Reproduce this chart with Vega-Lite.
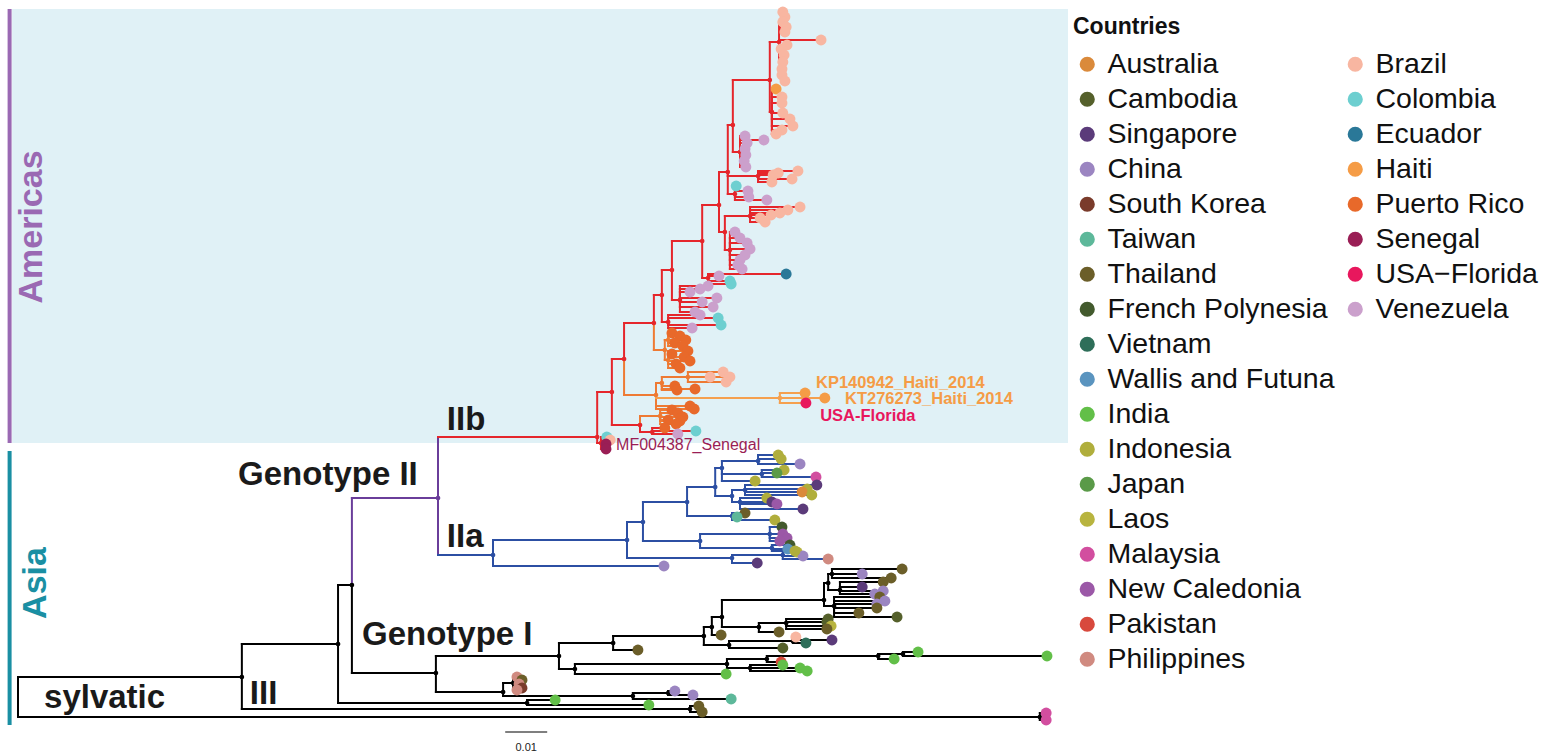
{
"$schema":"https://vega.github.io/schema/vega-lite/v6.json",
"width":1558,"height":754,"padding":0,"autosize":{"type":"none"},
"background":"#ffffff",
"config":{"view":{"stroke":null},
"legend":{"labelFont":"Liberation Sans","labelFontSize":28.5,"labelColor":"#111111","titleFont":"Liberation Sans","titleFontSize":23,"titleFontWeight":"bold","titleColor":"#111111","titlePadding":11,"symbolSize":230,"symbolType":"circle","symbolStrokeWidth":0,"symbolOpacity":1,"rowPadding":6,"labelOffset":6,"padding":0,"labelLimit":400,"offset":0}},
"datasets":{
"tree":[
{"id":"R0","dist":0,"pos":69.7,"clade":"bb"},
{"id":"SYL","parent":"R0","dist":243.3,"pos":71.7,"clade":"bb"},
{"parent":"SYL","dist":244.8,"pos":71.3,"clade":"bb","country":"Malaysia"},
{"parent":"SYL","dist":244.8,"pos":72.0,"clade":"bb","country":"Malaysia"},
{"id":"A","parent":"R0","dist":53.3,"pos":67.7,"clade":"bb"},
{"id":"G3","parent":"A","dist":160,"pos":70.9,"clade":"bb"},
{"parent":"G3","dist":162.1,"pos":70.6,"clade":"bb","country":"Thailand"},
{"parent":"G3","dist":162.9,"pos":71.2,"clade":"bb","country":"Thailand"},
{"id":"B","parent":"A","dist":76.2,"pos":64.4,"clade":"bb"},
{"id":"B2","parent":"B","dist":121.2,"pos":70.3,"clade":"bb"},
{"parent":"B2","dist":127.9,"pos":70.0,"clade":"bb","country":"India"},
{"parent":"B2","dist":150.2,"pos":70.5,"clade":"bb","country":"India"},
{"id":"C","parent":"B","dist":79.5,"pos":58.5,"clade":"bb"},
{"id":"D","parent":"C","dist":99.5,"pos":67.3,"clade":"bb"},
{"id":"N","parent":"D","dist":115.5,"pos":69.2,"clade":"bb"},
{"id":"N1","parent":"N","dist":117.9,"pos":68.3,"clade":"bb"},
{"parent":"N1","dist":118.8,"pos":67.7,"clade":"bb","country":"Philippines"},
{"parent":"N1","dist":120,"pos":68.0,"clade":"bb","country":"Thailand"},
{"parent":"N1","dist":119.3,"pos":68.4,"clade":"bb","country":"Philippines"},
{"parent":"N1","dist":120,"pos":68.8,"clade":"bb","country":"South Korea"},
{"parent":"N1","dist":118.8,"pos":69.0,"clade":"bb","country":"Philippines"},
{"id":"N2","parent":"N","dist":146.4,"pos":69.6,"clade":"bb"},
{"id":"N3","parent":"N2","dist":154.8,"pos":69.3,"clade":"bb"},
{"parent":"N3","dist":156.4,"pos":69.1,"clade":"bb","country":"China"},
{"parent":"N3","dist":160.7,"pos":69.5,"clade":"bb","country":"China"},
{"parent":"N2","dist":169.8,"pos":69.9,"clade":"bb","country":"Taiwan"},
{"id":"E","parent":"D","dist":128.8,"pos":65.6,"clade":"bb"},
{"id":"L","parent":"E","dist":132.6,"pos":66.9,"clade":"bb"},
{"parent":"L","dist":168.6,"pos":67.4,"clade":"bb","country":"India"},
{"id":"M","parent":"L","dist":168.8,"pos":66.4,"clade":"bb"},
{"id":"M1","parent":"M","dist":178.3,"pos":65.9,"clade":"bb"},
{"parent":"M1","dist":181.7,"pos":66.2,"clade":"bb","country":"Pakistan"},
{"id":"M1a","parent":"M1","dist":204.8,"pos":65.6,"clade":"bb"},
{"parent":"M1a","dist":208.6,"pos":65.9,"clade":"bb","country":"India"},
{"id":"M1b","parent":"M1a","dist":210.7,"pos":65.4,"clade":"bb"},
{"parent":"M1b","dist":214.3,"pos":65.2,"clade":"bb","country":"India"},
{"parent":"M1b","dist":245,"pos":65.6,"clade":"bb","country":"India"},
{"id":"M2","parent":"M","dist":174.3,"pos":66.8,"clade":"bb"},
{"parent":"M2","dist":182.1,"pos":66.5,"clade":"bb","country":"India"},
{"parent":"M2","dist":186.2,"pos":66.8,"clade":"bb","country":"India"},
{"parent":"M2","dist":187.9,"pos":67.1,"clade":"bb","country":"India"},
{"id":"F","parent":"E","dist":141.7,"pos":64.3,"clade":"bb"},
{"parent":"F","dist":147.6,"pos":65.0,"clade":"bb","country":"Thailand"},
{"id":"G","parent":"F","dist":163.3,"pos":63.6,"clade":"bb"},
{"id":"G2","parent":"G","dist":169.3,"pos":64.5,"clade":"bb"},
{"parent":"G2","dist":182.1,"pos":64.8,"clade":"bb","country":"Cambodia"},
{"id":"G2a","parent":"G2","dist":184.5,"pos":64.1,"clade":"bb"},
{"parent":"G2a","dist":185.2,"pos":63.7,"clade":"bb","country":"Brazil"},
{"parent":"G2a","dist":193.8,"pos":64.0,"clade":"bb","country":"Singapore"},
{"parent":"G2a","dist":187.6,"pos":64.3,"clade":"bb","country":"Vietnam"},
{"id":"H","parent":"G","dist":165.2,"pos":62.7,"clade":"bb"},
{"parent":"H","dist":167.4,"pos":63.5,"clade":"bb","country":"Thailand"},
{"id":"I","parent":"H","dist":167.6,"pos":61.7,"clade":"bb"},
{"id":"K","parent":"I","dist":176.4,"pos":62.7,"clade":"bb"},
{"parent":"K","dist":181.2,"pos":63.2,"clade":"bb","country":"Thailand"},
{"id":"K1","parent":"K","dist":182.9,"pos":62.3,"clade":"bb"},
{"parent":"K1","dist":192.9,"pos":61.9,"clade":"bb","country":"Cambodia"},
{"parent":"K1","dist":192.6,"pos":62.2,"clade":"bb","country":"Cambodia"},
{"parent":"K1","dist":193.6,"pos":62.6,"clade":"bb","country":"Laos"},
{"parent":"K1","dist":192.6,"pos":62.9,"clade":"bb","country":"Thailand"},
{"id":"J","parent":"I","dist":191.9,"pos":60.0,"clade":"bb"},
{"id":"J1","parent":"J","dist":192.9,"pos":58.3,"clade":"bb"},
{"id":"J1a","parent":"J1","dist":193.8,"pos":57.4,"clade":"bb"},
{"parent":"J1a","dist":210.5,"pos":56.9,"clade":"bb","country":"Thailand"},
{"parent":"J1a","dist":201,"pos":57.4,"clade":"bb","country":"China"},
{"parent":"J1a","dist":207.9,"pos":57.8,"clade":"bb","country":"Thailand"},
{"id":"J1b","parent":"J1","dist":195.7,"pos":59.0,"clade":"bb"},
{"parent":"J1b","dist":206,"pos":58.2,"clade":"bb","country":"Thailand"},
{"parent":"J1b","dist":201,"pos":58.7,"clade":"bb","country":"Singapore"},
{"parent":"J1b","dist":206,"pos":59.1,"clade":"bb","country":"China"},
{"parent":"J1b","dist":204,"pos":59.4,"clade":"bb","country":"China"},
{"id":"J2","parent":"J","dist":194.3,"pos":60.6,"clade":"bb"},
{"parent":"J2","dist":205.2,"pos":59.7,"clade":"bb","country":"Thailand"},
{"parent":"J2","dist":206.4,"pos":60.1,"clade":"bb","country":"China"},
{"parent":"J2","dist":204.5,"pos":60.4,"clade":"bb","country":"China"},
{"parent":"J2","dist":204.5,"pos":60.8,"clade":"bb","country":"Thailand"},
{"parent":"J2","dist":200.2,"pos":61.3,"clade":"bb","country":"Thailand"},
{"parent":"J2","dist":209.3,"pos":61.7,"clade":"bb","country":"Cambodia"},
{"id":"P","parent":"C","dist":100,"pos":49.8,"clade":"II"},
{"id":"Q","parent":"P","dist":113.1,"pos":55.5,"clade":"IIa"},
{"parent":"Q","dist":153.8,"pos":56.6,"clade":"IIa","country":"China"},
{"id":"R","parent":"Q","dist":145,"pos":54.0,"clade":"IIa"},
{"id":"S","parent":"R","dist":148.8,"pos":52.2,"clade":"IIa"},
{"id":"T","parent":"R","dist":170,"pos":55.8,"clade":"IIa"},
{"parent":"T","dist":176,"pos":56.3,"clade":"IIa","country":"Singapore"},
{"id":"T2","parent":"T","dist":182.1,"pos":55.5,"clade":"IIa"},
{"parent":"T2","dist":185.5,"pos":55.2,"clade":"IIa","country":"Laos"},
{"parent":"T2","dist":186.9,"pos":55.6,"clade":"IIa","country":"China"},
{"parent":"T2","dist":192.9,"pos":55.9,"clade":"IIa","country":"Philippines"},
{"id":"U","parent":"S","dist":159.3,"pos":50.2,"clade":"IIa"},
{"id":"U1","parent":"U","dist":166,"pos":48.7,"clade":"IIa"},
{"id":"U1a","parent":"U1","dist":167.6,"pos":46.8,"clade":"IIa"},
{"parent":"U1a","dist":175.5,"pos":48.1,"clade":"IIa","country":"Indonesia"},
{"id":"U1c","parent":"U1a","dist":176.2,"pos":46.1,"clade":"IIa"},
{"parent":"U1c","dist":181,"pos":45.5,"clade":"IIa","country":"Indonesia"},
{"parent":"U1c","dist":181.7,"pos":45.9,"clade":"IIa","country":"Indonesia"},
{"parent":"U1c","dist":186.2,"pos":46.4,"clade":"IIa","country":"China"},
{"id":"U1d","parent":"U1a","dist":177.1,"pos":47.4,"clade":"IIa"},
{"parent":"U1d","dist":182.4,"pos":47.0,"clade":"IIa","country":"Indonesia"},
{"parent":"U1d","dist":180.7,"pos":47.3,"clade":"IIa","country":"Japan"},
{"parent":"U1d","dist":190,"pos":47.7,"clade":"IIa","country":"Malaysia"},
{"id":"U1b","parent":"U1","dist":170,"pos":49.6,"clade":"IIa"},
{"id":"U1e","parent":"U1b","dist":173.1,"pos":49.0,"clade":"IIa"},
{"parent":"U1e","dist":190.2,"pos":48.5,"clade":"IIa","country":"Singapore"},
{"parent":"U1e","dist":187.9,"pos":48.9,"clade":"IIa","country":"Indonesia"},
{"parent":"U1e","dist":186.7,"pos":49.2,"clade":"IIa","country":"Australia"},
{"parent":"U1e","dist":189,"pos":49.5,"clade":"IIa","country":"Indonesia"},
{"id":"U1f","parent":"U1b","dist":171.9,"pos":50.2,"clade":"IIa"},
{"parent":"U1f","dist":178.3,"pos":49.8,"clade":"IIa","country":"Indonesia"},
{"parent":"U1f","dist":179.5,"pos":50.2,"clade":"IIa","country":"Singapore"},
{"parent":"U1f","dist":180.7,"pos":50.4,"clade":"IIa","country":"New Caledonia"},
{"parent":"U1f","dist":186.9,"pos":50.9,"clade":"IIa","country":"Singapore"},
{"id":"U2","parent":"U","dist":170,"pos":51.6,"clade":"IIa"},
{"parent":"U2","dist":173.1,"pos":51.3,"clade":"IIa","country":"Thailand"},
{"parent":"U2","dist":171.2,"pos":51.7,"clade":"IIa","country":"Taiwan"},
{"parent":"U2","dist":180.2,"pos":52.0,"clade":"IIa","country":"Indonesia"},
{"id":"V","parent":"S","dist":162.4,"pos":54.1,"clade":"IIa"},
{"id":"V1","parent":"V","dist":179,"pos":53.4,"clade":"IIa"},
{"parent":"V1","dist":181.9,"pos":52.7,"clade":"IIa","country":"French Polynesia"},
{"parent":"V1","dist":182.1,"pos":53.4,"clade":"IIa","country":"New Caledonia"},
{"parent":"V1","dist":183.1,"pos":53.8,"clade":"IIa","country":"New Caledonia"},
{"parent":"V1","dist":181.4,"pos":54.1,"clade":"IIa","country":"New Caledonia"},
{"id":"V2","parent":"V","dist":179.5,"pos":54.8,"clade":"IIa"},
{"parent":"V2","dist":183.8,"pos":54.5,"clade":"IIa","country":"French Polynesia"},
{"parent":"V2","dist":183.3,"pos":54.9,"clade":"IIa","country":"Wallis and Futuna"},
{"parent":"V2","dist":185,"pos":55.1,"clade":"IIa","country":"Indonesia"},
{"id":"AM0","parent":"P","dist":137.9,"pos":43.7,"clade":"IIb"},
{"id":"SEN","parent":"AM0","dist":138.8,"pos":44.3,"clade":"IIb"},
{"parent":"SEN","dist":140.2,"pos":43.7,"clade":"IIb","country":"Colombia"},
{"parent":"SEN","dist":141,"pos":44.0,"clade":"IIb","country":"Brazil"},
{"parent":"SEN","dist":140,"pos":44.4,"clade":"IIb","country":"Senegal"},
{"parent":"SEN","dist":140,"pos":44.9,"clade":"IIb","country":"Senegal"},
{"id":"AM1","parent":"AM0","dist":141.4,"pos":39.2,"clade":"IIb"},
{"id":"AM1b","parent":"AM1","dist":148.1,"pos":42.5,"clade":"IIb"},
{"id":"PR1","parent":"AM1b","dist":152.9,"pos":41.6,"clade":"PR"},
{"parent":"PR1","dist":155.7,"pos":41.0,"clade":"PR","country":"Puerto Rico"},
{"parent":"PR1","dist":157.1,"pos":41.3,"clade":"PR","country":"Puerto Rico"},
{"parent":"PR1","dist":158.3,"pos":41.7,"clade":"PR","country":"Puerto Rico"},
{"parent":"PR1","dist":154.8,"pos":42.0,"clade":"PR","country":"Puerto Rico"},
{"parent":"PR1","dist":157.6,"pos":42.1,"clade":"PR","country":"Puerto Rico"},
{"parent":"PR1","dist":156.7,"pos":42.4,"clade":"PR","country":"Puerto Rico"},
{"id":"AM1c","parent":"AM1b","dist":151,"pos":43.2,"clade":"IIb"},
{"parent":"AM1c","dist":154,"pos":42.8,"clade":"IIb","country":"Puerto Rico"},
{"parent":"AM1c","dist":161.4,"pos":43.1,"clade":"IIb","country":"Colombia"},
{"parent":"AM1c","dist":157.1,"pos":43.4,"clade":"IIb","country":"Venezuela"},
{"id":"AM2","parent":"AM1","dist":144.3,"pos":35.9,"clade":"IIb"},
{"id":"AM3b","parent":"AM2","dist":151.9,"pos":39.5,"clade":"PR"},
{"id":"PRC","parent":"AM3b","dist":153.3,"pos":38.3,"clade":"PR"},
{"id":"BRc","parent":"PRC","dist":159.5,"pos":37.7,"clade":"PR"},
{"parent":"BRc","dist":167.9,"pos":37.2,"clade":"PR","country":"Brazil"},
{"parent":"BRc","dist":164.8,"pos":37.7,"clade":"PR","country":"Brazil"},
{"parent":"BRc","dist":169.5,"pos":37.7,"clade":"PR","country":"Brazil"},
{"parent":"BRc","dist":168.6,"pos":38.2,"clade":"PR","country":"Brazil"},
{"parent":"PRC","dist":156.4,"pos":38.6,"clade":"PR","country":"Puerto Rico"},
{"parent":"PRC","dist":161.2,"pos":38.9,"clade":"PR","country":"Puerto Rico"},
{"parent":"PRC","dist":156.9,"pos":39.0,"clade":"PR","country":"Puerto Rico"},
{"id":"HAI","parent":"AM3b","dist":181.4,"pos":39.8,"clade":"HT"},
{"parent":"HAI","dist":187.4,"pos":39.3,"clade":"HT","country":"Haiti"},
{"parent":"HAI","dist":192.1,"pos":39.8,"clade":"HT","country":"Haiti"},
{"parent":"HAI","dist":187.6,"pos":40.3,"clade":"HT","country":"USA−Florida"},
{"parent":"AM3b","dist":160,"pos":40.6,"clade":"PR","country":"Puerto Rico"},
{"parent":"AM3b","dist":161,"pos":40.9,"clade":"PR","country":"Puerto Rico"},
{"id":"AM3","parent":"AM2","dist":151.4,"pos":32.3,"clade":"IIb"},
{"id":"PRA","parent":"AM3","dist":154,"pos":35.0,"clade":"PR"},
{"id":"PRA1","parent":"PRA","dist":154.8,"pos":34.0,"clade":"PR"},
{"parent":"PRA1","dist":155.7,"pos":33.3,"clade":"PR","country":"Puerto Rico"},
{"parent":"PRA1","dist":157.6,"pos":33.6,"clade":"PR","country":"Puerto Rico"},
{"parent":"PRA1","dist":159,"pos":34.0,"clade":"PR","country":"Puerto Rico"},
{"parent":"PRA1","dist":156.4,"pos":34.3,"clade":"PR","country":"Puerto Rico"},
{"parent":"PRA1","dist":158.3,"pos":34.6,"clade":"PR","country":"Puerto Rico"},
{"id":"PRA2","parent":"PRA","dist":154.8,"pos":36.0,"clade":"PR"},
{"parent":"PRA2","dist":159.5,"pos":35.1,"clade":"PR","country":"Puerto Rico"},
{"parent":"PRA2","dist":155.7,"pos":35.4,"clade":"PR","country":"Puerto Rico"},
{"parent":"PRA2","dist":158.6,"pos":35.7,"clade":"PR","country":"Puerto Rico"},
{"parent":"PRA2","dist":160,"pos":36.1,"clade":"PR","country":"Puerto Rico"},
{"parent":"PRA2","dist":156.7,"pos":36.4,"clade":"PR","country":"Puerto Rico"},
{"parent":"PRA2","dist":157.6,"pos":36.8,"clade":"PR","country":"Puerto Rico"},
{"id":"AM4","parent":"AM3","dist":153.3,"pos":29.5,"clade":"IIb"},
{"id":"VZ","parent":"AM4","dist":154.8,"pos":32.2,"clade":"IIb"},
{"parent":"VZ","dist":162.4,"pos":31.5,"clade":"IIb","country":"Venezuela"},
{"parent":"VZ","dist":166.7,"pos":31.8,"clade":"IIb","country":"Colombia"},
{"parent":"VZ","dist":167.4,"pos":32.5,"clade":"IIb","country":"Colombia"},
{"parent":"VZ","dist":160.5,"pos":32.8,"clade":"IIb","country":"Venezuela"},
{"id":"AM5","parent":"AM4","dist":155.7,"pos":27.0,"clade":"IIb"},
{"id":"VZA","parent":"AM5","dist":157.6,"pos":30.0,"clade":"IIb"},
{"parent":"VZA","dist":164.3,"pos":28.6,"clade":"IIb","country":"Venezuela"},
{"parent":"VZA","dist":162.4,"pos":28.9,"clade":"IIb","country":"Venezuela"},
{"parent":"VZA","dist":160,"pos":29.2,"clade":"IIb","country":"Venezuela"},
{"parent":"VZA","dist":166.4,"pos":29.8,"clade":"IIb","country":"Venezuela"},
{"parent":"VZA","dist":162.9,"pos":30.2,"clade":"IIb","country":"Venezuela"},
{"parent":"VZA","dist":165.5,"pos":30.7,"clade":"IIb","country":"Venezuela"},
{"parent":"VZA","dist":161.2,"pos":31.2,"clade":"IIb","country":"Venezuela"},
{"id":"AM6","parent":"AM5","dist":162.9,"pos":24.1,"clade":"IIb"},
{"id":"AM6c","parent":"AM6","dist":164.3,"pos":27.8,"clade":"IIb"},
{"parent":"AM6c","dist":182.9,"pos":27.4,"clade":"IIb","country":"Ecuador"},
{"parent":"AM6c","dist":166.9,"pos":27.6,"clade":"IIb","country":"Venezuela"},
{"parent":"AM6c","dist":169.5,"pos":28.1,"clade":"IIb","country":"Colombia"},
{"parent":"AM6c","dist":169.8,"pos":28.4,"clade":"IIb","country":"Colombia"},
{"id":"AM7","parent":"AM6","dist":166.9,"pos":20.5,"clade":"IIb"},
{"id":"AM7b","parent":"AM7","dist":168.3,"pos":23.2,"clade":"IIb"},
{"id":"BRB","parent":"AM7b","dist":174.3,"pos":21.6,"clade":"IIb"},
{"parent":"BRB","dist":186.2,"pos":20.7,"clade":"IIb","country":"Brazil"},
{"parent":"BRB","dist":183.3,"pos":21.0,"clade":"IIb","country":"Brazil"},
{"parent":"BRB","dist":181.4,"pos":21.3,"clade":"IIb","country":"Brazil"},
{"parent":"BRB","dist":179.3,"pos":21.5,"clade":"IIb","country":"Brazil"},
{"parent":"BRB","dist":176.7,"pos":21.8,"clade":"IIb","country":"Brazil"},
{"parent":"BRB","dist":177.9,"pos":22.2,"clade":"IIb","country":"Brazil"},
{"id":"VZB","parent":"AM7b","dist":169.5,"pos":25.0,"clade":"IIb"},
{"parent":"VZB","dist":170.7,"pos":23.2,"clade":"IIb","country":"Venezuela"},
{"parent":"VZB","dist":171.9,"pos":23.8,"clade":"IIb","country":"Venezuela"},
{"parent":"VZB","dist":173.6,"pos":24.3,"clade":"IIb","country":"Venezuela"},
{"parent":"VZB","dist":174.3,"pos":24.9,"clade":"IIb","country":"Venezuela"},
{"parent":"VZB","dist":173.1,"pos":25.5,"clade":"IIb","country":"Venezuela"},
{"parent":"VZB","dist":171.9,"pos":26.0,"clade":"IIb","country":"Venezuela"},
{"parent":"VZB","dist":171.4,"pos":26.5,"clade":"IIb","country":"Venezuela"},
{"parent":"VZB","dist":172.4,"pos":26.9,"clade":"IIb","country":"Venezuela"},
{"id":"AM8","parent":"AM7","dist":169,"pos":17.2,"clade":"IIb"},
{"id":"AM8b","parent":"AM8","dist":176.2,"pos":17.6,"clade":"IIb"},
{"parent":"AM8b","dist":185.7,"pos":17.1,"clade":"IIb","country":"Brazil"},
{"parent":"AM8b","dist":181,"pos":17.3,"clade":"IIb","country":"Brazil"},
{"parent":"AM8b","dist":179.8,"pos":17.5,"clade":"IIb","country":"Brazil"},
{"parent":"AM8b","dist":184.3,"pos":17.9,"clade":"IIb","country":"Brazil"},
{"parent":"AM8b","dist":179.5,"pos":18.2,"clade":"IIb","country":"Brazil"},
{"id":"AM8c","parent":"AM8","dist":170.7,"pos":19.4,"clade":"IIb"},
{"parent":"AM8c","dist":171,"pos":18.6,"clade":"IIb","country":"Colombia"},
{"parent":"AM8c","dist":173.8,"pos":19.1,"clade":"IIb","country":"Venezuela"},
{"parent":"AM8c","dist":174,"pos":19.7,"clade":"IIb","country":"Venezuela"},
{"parent":"AM8c","dist":178.3,"pos":20.0,"clade":"IIb","country":"Venezuela"},
{"id":"AM9","parent":"AM8","dist":170.2,"pos":12.5,"clade":"IIb"},
{"id":"VZC","parent":"AM9","dist":171.9,"pos":15.2,"clade":"IIb"},
{"parent":"VZC","dist":173.1,"pos":13.6,"clade":"IIb","country":"Venezuela"},
{"parent":"VZC","dist":177.6,"pos":14.0,"clade":"IIb","country":"Venezuela"},
{"parent":"VZC","dist":173.6,"pos":14.3,"clade":"IIb","country":"Venezuela"},
{"parent":"VZC","dist":173.1,"pos":14.9,"clade":"IIb","country":"Venezuela"},
{"parent":"VZC","dist":173.3,"pos":15.5,"clade":"IIb","country":"Venezuela"},
{"parent":"VZC","dist":172.9,"pos":16.1,"clade":"IIb","country":"Venezuela"},
{"parent":"VZC","dist":173.3,"pos":16.7,"clade":"IIb","country":"Venezuela"},
{"id":"AM10","parent":"AM9","dist":179,"pos":8.0,"clade":"IIb"},
{"id":"BRD","parent":"AM10","dist":179.5,"pos":11.2,"clade":"IIb"},
{"parent":"BRD","dist":180.5,"pos":8.9,"clade":"IIb","country":"Haiti"},
{"parent":"BRD","dist":181.9,"pos":9.7,"clade":"IIb","country":"Brazil"},
{"parent":"BRD","dist":181.9,"pos":10.3,"clade":"IIb","country":"Brazil"},
{"parent":"BRD","dist":182.1,"pos":11.3,"clade":"IIb","country":"Brazil"},
{"parent":"BRD","dist":183.8,"pos":11.9,"clade":"IIb","country":"Brazil"},
{"parent":"BRD","dist":184.5,"pos":12.6,"clade":"IIb","country":"Brazil"},
{"parent":"BRD","dist":181.9,"pos":13.0,"clade":"IIb","country":"Brazil"},
{"parent":"BRD","dist":180.5,"pos":13.4,"clade":"IIb","country":"Brazil"},
{"id":"AM11","parent":"AM10","dist":181.2,"pos":4.2,"clade":"IIb"},
{"id":"BRT","parent":"AM11","dist":181.7,"pos":2.2,"clade":"IIb"},
{"parent":"BRT","dist":182.1,"pos":1.2,"clade":"IIb","country":"Brazil"},
{"parent":"BRT","dist":182.6,"pos":1.7,"clade":"IIb","country":"Brazil"},
{"parent":"BRT","dist":182.1,"pos":2.2,"clade":"IIb","country":"Brazil"},
{"parent":"BRT","dist":182.9,"pos":2.7,"clade":"IIb","country":"Brazil"},
{"parent":"BRT","dist":182.6,"pos":3.2,"clade":"IIb","country":"Brazil"},
{"parent":"AM11","dist":191.2,"pos":4.0,"clade":"IIb","country":"Brazil"},
{"id":"BRU","parent":"AM11","dist":181.7,"pos":6.3,"clade":"IIb"},
{"parent":"BRU","dist":183.1,"pos":4.5,"clade":"IIb","country":"Brazil"},
{"parent":"BRU","dist":181.7,"pos":4.9,"clade":"IIb","country":"Brazil"},
{"parent":"BRU","dist":182.4,"pos":5.5,"clade":"IIb","country":"Brazil"},
{"parent":"BRU","dist":182.1,"pos":6.2,"clade":"IIb","country":"Brazil"},
{"parent":"BRU","dist":181.9,"pos":6.9,"clade":"IIb","country":"Brazil"},
{"parent":"BRU","dist":181.9,"pos":7.5,"clade":"IIb","country":"Brazil"},
{"parent":"BRU","dist":182.6,"pos":8.1,"clade":"IIb","country":"Brazil"}
],
"labels":[
{"kind":"clade","label":"IIb","dist":102.1,"pos":43.0},
{"kind":"clade","label":"Genotype II","dist":52.4,"pos":48.5},
{"kind":"clade","label":"IIa","dist":102.1,"pos":54.7},
{"kind":"clade","label":"Genotype I","dist":81.9,"pos":64.5},
{"kind":"clade","label":"sylvatic","dist":6.2,"pos":70.8},
{"kind":"clade","label":"III","dist":55.2,"pos":70.4},
{"kind":"haiti","label":"KP140942_Haiti_2014","dist":190,"pos":38.8},
{"kind":"haiti","label":"KT276273_Haiti_2014","dist":196.9,"pos":40.4},
{"kind":"florida","label":"USA-Florida","dist":191,"pos":42.1},
{"kind":"senegal","label":"MF004387_Senegal","dist":142.4,"pos":45.0}
],
"regions":[
{"region":"Americas","d1":-1.4,"d2":250,"p1":0.9,"p2":44.3,"mid":22.7,"base":5.7},
{"region":"Asia","d1":-1.4,"d2":-1.4,"p1":45.1,"p2":72.5,"mid":58.3,"base":6.7}
],
"scalebar":[{"d1":116,"d2":126,"pos":73.2,"tpos":74.8,"tdist":121,"label":"0.01"}]
},
"layer":[
{"data":{"name":"regions"},"transform":[{"filter":"datum.region === 'Americas'"}],
 "mark":{"type":"rect","color":"#e0f1f6"},
 "encoding":{"x":{"field":"d1","type":"quantitative","scale":{"domain":[-4.286,366.667],"nice":false,"zero":false},"axis":null},"x2":{"field":"d2"},
 "y":{"field":"p1","type":"quantitative","scale":{"domain":[0,75.4],"nice":false,"zero":false,"reverse":true},"axis":null},"y2":{"field":"p2"}}},
{"data":{"name":"regions"},
 "mark":{"type":"rule","strokeWidth":4},
 "encoding":{"x":{"datum":-2.0,"type":"quantitative","scale":{"domain":[-4.286,366.667],"nice":false,"zero":false},"axis":null},
 "y":{"field":"p1","type":"quantitative","scale":{"domain":[0,75.4],"nice":false,"zero":false,"reverse":true},"axis":null},"y2":{"field":"p2"},
 "stroke":{"field":"region","type":"nominal","scale":{"domain":["bb","II","IIa","IIb","PR","HT","Americas","Asia"],"range":["#000000","#6a3d9a","#2c4fa3","#e5262b","#ee7a33","#f5a04e","#9a69b3","#1a8fa3"]},"legend":null}}},
{"data":{"name":"tree"},
 "transform":[{"filter":"isValid(datum.parent)"},{"lookup":"parent","from":{"data":{"name":"tree"},"key":"id","fields":["dist","pos"]},"as":["pdist","ppos"]},{"filter":"isValid(datum.pdist)"}],
 "mark":{"type":"rule","strokeWidth":2,"strokeCap":"square"},
 "encoding":{"x":{"field":"pdist","type":"quantitative","scale":{"domain":[-4.286,366.667],"nice":false,"zero":false},"axis":null},
 "y":{"field":"ppos","type":"quantitative","scale":{"domain":[0,75.4],"nice":false,"zero":false,"reverse":true},"axis":null},"y2":{"field":"pos"},
 "stroke":{"condition":{"test":"datum.id === 'AM0' || datum.id === 'Q'","value":"#6a3d9a"},"field":"clade","type":"nominal","scale":{"domain":["bb","II","IIa","IIb","PR","HT","Americas","Asia"],"range":["#000000","#6a3d9a","#2c4fa3","#e5262b","#ee7a33","#f5a04e","#9a69b3","#1a8fa3"]},"legend":null}}},
{"data":{"name":"tree"},
 "transform":[{"filter":"isValid(datum.parent)"},{"lookup":"parent","from":{"data":{"name":"tree"},"key":"id","fields":["dist","pos"]},"as":["pdist","ppos"]},{"filter":"isValid(datum.pdist)"}],
 "mark":{"type":"rule","strokeWidth":2,"strokeCap":"square"},
 "encoding":{"x":{"field":"pdist","type":"quantitative","scale":{"domain":[-4.286,366.667],"nice":false,"zero":false},"axis":null},"x2":{"field":"dist"},
 "y":{"field":"pos","type":"quantitative","scale":{"domain":[0,75.4],"nice":false,"zero":false,"reverse":true},"axis":null},
 "stroke":{"field":"clade","type":"nominal","scale":{"domain":["bb","II","IIa","IIb","PR","HT","Americas","Asia"],"range":["#000000","#6a3d9a","#2c4fa3","#e5262b","#ee7a33","#f5a04e","#9a69b3","#1a8fa3"]},"legend":null}}},
{"data":{"name":"tree"},
 "transform":[{"filter":"!isValid(datum.country) && isValid(datum.parent)"}],
 "mark":{"type":"point","filled":false,"size":5,"strokeWidth":2.5,"opacity":1},
 "encoding":{"x":{"field":"dist","type":"quantitative","scale":{"domain":[-4.286,366.667],"nice":false,"zero":false},"axis":null},
 "y":{"field":"pos","type":"quantitative","scale":{"domain":[0,75.4],"nice":false,"zero":false,"reverse":true},"axis":null},
 "stroke":{"field":"clade","type":"nominal","scale":{"domain":["bb","II","IIa","IIb","PR","HT","Americas","Asia"],"range":["#000000","#6a3d9a","#2c4fa3","#e5262b","#ee7a33","#f5a04e","#9a69b3","#1a8fa3"]},"legend":null}}},
{"data":{"name":"tree"},
 "transform":[{"filter":{"field":"country","oneOf":["Australia","Cambodia","Singapore","China","South Korea","Taiwan","Thailand","French Polynesia","Vietnam","Wallis and Futuna","India","Indonesia","Japan","Laos","Malaysia","New Caledonia","Pakistan","Philippines"]}}],
 "mark":{"type":"point","filled":true,"size":120,"opacity":1},
 "encoding":{"x":{"field":"dist","type":"quantitative","scale":{"domain":[-4.286,366.667],"nice":false,"zero":false},"axis":null},
 "y":{"field":"pos","type":"quantitative","scale":{"domain":[0,75.4],"nice":false,"zero":false,"reverse":true},"axis":null},
 "color":{"field":"country","type":"nominal",
  "scale":{"domain":["Australia","Cambodia","Singapore","China","South Korea","Taiwan","Thailand","French Polynesia","Vietnam","Wallis and Futuna","India","Indonesia","Japan","Laos","Malaysia","New Caledonia","Pakistan","Philippines"],
  "range":["#da8a3b","#55602b","#5b3b7a","#9b85c1","#7a3b2b","#5db89a","#6b5e29","#435a2d","#2e6e59","#5a94bf","#62bf48","#b0ae3c","#5a9a48","#b8b43f","#d24e9f","#9b58a7","#d8493d","#d08a80"]},
  "legend":{"title":"Countries","orient":"none","legendX":1073,"legendY":16}}}},
{"data":{"name":"tree"},
 "transform":[{"filter":{"field":"country","oneOf":["Brazil","Colombia","Ecuador","Haiti","Puerto Rico","Senegal","USA−Florida","Venezuela"]}}],
 "mark":{"type":"point","filled":true,"size":120,"opacity":1},
 "encoding":{"x":{"field":"dist","type":"quantitative","scale":{"domain":[-4.286,366.667],"nice":false,"zero":false},"axis":null},
 "y":{"field":"pos","type":"quantitative","scale":{"domain":[0,75.4],"nice":false,"zero":false,"reverse":true},"axis":null},
 "fill":{"field":"country","type":"nominal",
  "scale":{"domain":["Brazil","Colombia","Ecuador","Haiti","Puerto Rico","Senegal","USA−Florida","Venezuela"],
  "range":["#f8b6a1","#6dcfd0","#2a7898","#f59c46","#e8692a","#9a1e55","#e8175d","#cba0cc"]},
  "legend":{"title":null,"orient":"none","legendX":1341,"legendY":50}}}},
{"data":{"name":"labels"},"transform":[{"filter":"datum.kind === 'clade'"}],
 "mark":{"type":"text","font":"Liberation Sans","fontSize":33,"fontWeight":"bold","color":"#1a1a1a","align":"left","baseline":"alphabetic"},
 "encoding":{"x":{"field":"dist","type":"quantitative","scale":{"domain":[-4.286,366.667],"nice":false,"zero":false},"axis":null},
 "y":{"field":"pos","type":"quantitative","scale":{"domain":[0,75.4],"nice":false,"zero":false,"reverse":true},"axis":null},"text":{"field":"label"}}},
{"data":{"name":"labels"},"transform":[{"filter":"datum.kind === 'haiti'"}],
 "mark":{"type":"text","font":"Liberation Sans","fontSize":16.5,"fontWeight":"bold","color":"#f59c46","align":"left","baseline":"alphabetic"},
 "encoding":{"x":{"field":"dist","type":"quantitative","scale":{"domain":[-4.286,366.667],"nice":false,"zero":false},"axis":null},
 "y":{"field":"pos","type":"quantitative","scale":{"domain":[0,75.4],"nice":false,"zero":false,"reverse":true},"axis":null},"text":{"field":"label"}}},
{"data":{"name":"labels"},"transform":[{"filter":"datum.kind === 'florida'"}],
 "mark":{"type":"text","font":"Liberation Sans","fontSize":16.5,"fontWeight":"bold","color":"#e8175d","align":"left","baseline":"alphabetic"},
 "encoding":{"x":{"field":"dist","type":"quantitative","scale":{"domain":[-4.286,366.667],"nice":false,"zero":false},"axis":null},
 "y":{"field":"pos","type":"quantitative","scale":{"domain":[0,75.4],"nice":false,"zero":false,"reverse":true},"axis":null},"text":{"field":"label"}}},
{"data":{"name":"labels"},"transform":[{"filter":"datum.kind === 'senegal'"}],
 "mark":{"type":"text","font":"Liberation Sans","fontSize":16,"color":"#9a1e55","align":"left","baseline":"alphabetic"},
 "encoding":{"x":{"field":"dist","type":"quantitative","scale":{"domain":[-4.286,366.667],"nice":false,"zero":false},"axis":null},
 "y":{"field":"pos","type":"quantitative","scale":{"domain":[0,75.4],"nice":false,"zero":false,"reverse":true},"axis":null},"text":{"field":"label"}}},
{"data":{"name":"regions"},"transform":[{"filter":"datum.region === 'Americas'"}],
 "mark":{"type":"text","font":"Liberation Sans","fontSize":34,"fontWeight":"bold","color":"#9a69b3","align":"center","baseline":"alphabetic","angle":270},
 "encoding":{"x":{"field":"base","type":"quantitative","scale":{"domain":[-4.286,366.667],"nice":false,"zero":false},"axis":null},
 "y":{"field":"mid","type":"quantitative","scale":{"domain":[0,75.4],"nice":false,"zero":false,"reverse":true},"axis":null},"text":{"field":"region"}}},
{"data":{"name":"regions"},"transform":[{"filter":"datum.region === 'Asia'"}],
 "mark":{"type":"text","font":"Liberation Sans","fontSize":34,"fontWeight":"bold","color":"#1a8fa3","align":"center","baseline":"alphabetic","angle":270},
 "encoding":{"x":{"field":"base","type":"quantitative","scale":{"domain":[-4.286,366.667],"nice":false,"zero":false},"axis":null},
 "y":{"field":"mid","type":"quantitative","scale":{"domain":[0,75.4],"nice":false,"zero":false,"reverse":true},"axis":null},"text":{"field":"region"}}},
{"data":{"name":"scalebar"},
 "mark":{"type":"rule","color":"#000000","strokeWidth":1.2},
 "encoding":{"x":{"field":"d1","type":"quantitative","scale":{"domain":[-4.286,366.667],"nice":false,"zero":false},"axis":null},"x2":{"field":"d2"},
 "y":{"field":"pos","type":"quantitative","scale":{"domain":[0,75.4],"nice":false,"zero":false,"reverse":true},"axis":null}}},
{"data":{"name":"scalebar"},
 "mark":{"type":"text","font":"Liberation Sans","fontSize":11,"color":"#222222","align":"center","baseline":"middle"},
 "encoding":{"x":{"field":"tdist","type":"quantitative","scale":{"domain":[-4.286,366.667],"nice":false,"zero":false},"axis":null},
 "y":{"field":"tpos","type":"quantitative","scale":{"domain":[0,75.4],"nice":false,"zero":false,"reverse":true},"axis":null},"text":{"field":"label"}}}
]
}
